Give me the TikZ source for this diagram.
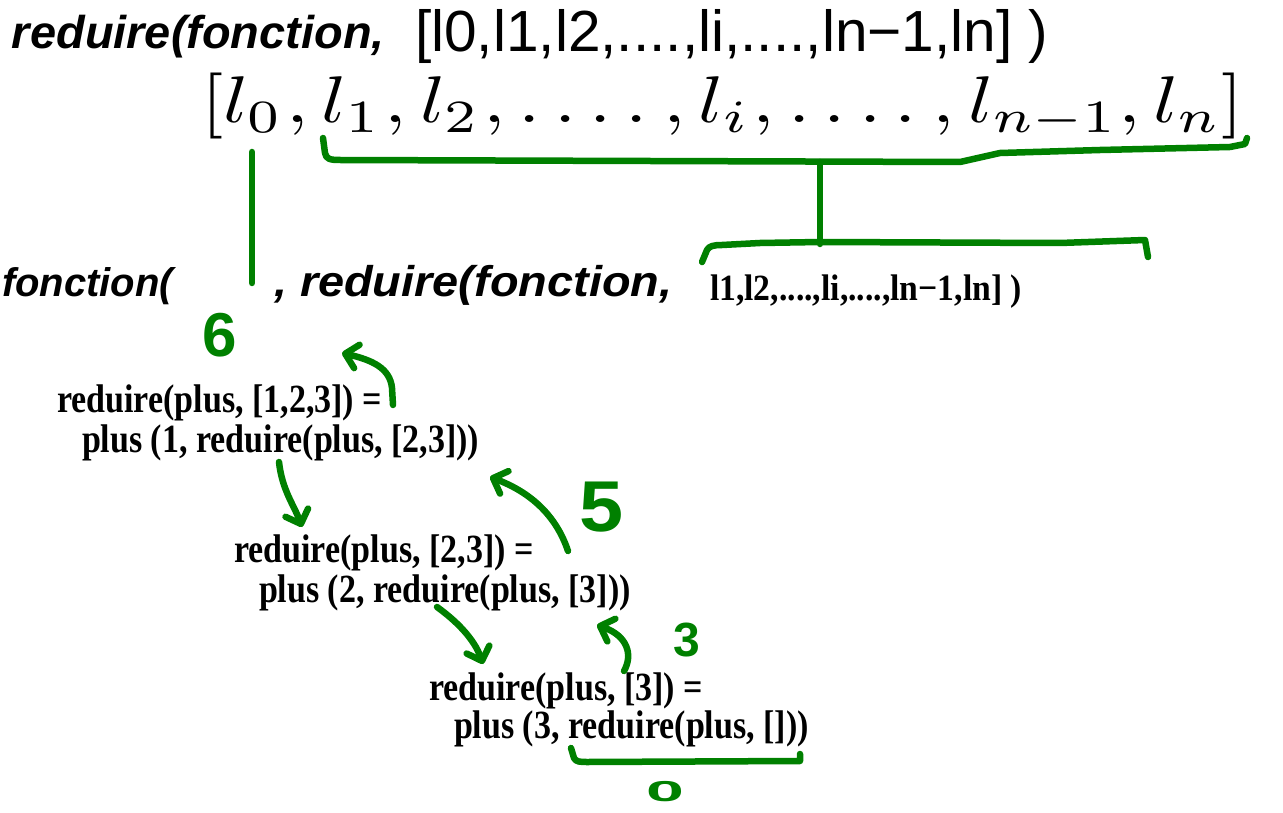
\documentclass[tikz,border=0pt]{standalone}
\usepackage{fontspec}
\setmainfont{Liberation Serif}
\newfontfamily\arialf{Liberation Sans}
\usetikzlibrary{arrows.meta}
\definecolor{pen}{RGB}{0,128,0}
\newcommand\hs[2]{\scalebox{#1}[1]{#2}}
\newcommand\cmm{\hspace{0.04em},}
\newcommand\cmw{\hspace{0.2em},}
\newcommand\dts{.\,.\,.\,.}
\begin{document}
\begin{tikzpicture}[x=1pt,y=-1pt,
  txt/.style={anchor=base west, inner sep=0pt, outer sep=0pt},
  bi/.style={txt, font=\arialf\bfseries\itshape\fontsize{#1}{#1}\selectfont},
  code/.style={txt, font=\bfseries\fontsize{40}{40}\selectfont},
  stroke/.style={draw=pen, line width=6.5pt, line cap=round, line join=round},
  arr/.style={stroke, -{Straight Barb[length=12pt,width=24pt,line cap=round,round]}},
  digit/.style={inner sep=0pt, text=pen, font=\arialf\bfseries\fontsize{#1}{#1}\selectfont},
]
\useasboundingbox[fill=white] (0,0) rectangle (1283,813);

% header
\node[bi=46] (hdr) at (12,49) {\hs{1.02}{reduire(fonction,}};
\node[txt, font=\arialf\fontsize{58}{58}\selectfont] (hlist) at (415,52) {\hs{1.01}{[l0,l1,l2,....,li,....,ln−1,ln] )}};
\node[txt] (math) at (201,123) {\scalebox{8.0}[6.6]{$[l_0\cmm l_1\cmm l_2\cmm \dts\cmw l_i\cmm \dts\cmw l_{n-1}, l_n]$}};

% second line
\node[bi=40] (fct) at (2,297) {fonction(};
\node[bi=43] (rec) at (274,297) {\hs{1.09}{, reduire(fonction,}};
\node[txt, font=\bfseries\fontsize{37}{37}\selectfont] (tail) at (710,300) {\hs{0.91}{l1,l2,....,li,....,ln−1,ln] )}};

% code blocks
\node[code] (c1a) at (57,412) {\hs{0.85}{reduire(plus, [1,2,3]) =}};
\node[code] (c1b) at (82,452) {\hs{0.85}{plus (1, reduire(plus, [2,3]))}};
\node[code] (c2a) at (234,562) {\hs{0.85}{reduire(plus, [2,3]) =}};
\node[code] (c2b) at (259,602) {\hs{0.85}{plus (2, reduire(plus, [3]))}};
\node[code] (c3a) at (429,700) {\hs{0.85}{reduire(plus, [3]) =}};
\node[code] (c3b) at (454,738) {\hs{0.85}{plus (3, reduire(plus, []))}};

% green digits
\node[digit=62] (six) at (220,335) {6};
\node[digit=72] (five) at (602,507) {\hs{1.1}{5}};
\node[digit=48] (three) at (687,640) {3};
\node[digit=40] (zero) at (665,792) {\scalebox{1.7}[0.72]{0}};

% green strokes
\draw[stroke] (252,152) -- (252,283);
\draw[stroke] (323,138) -- (325,153) .. controls (326,159) and (330,160) .. (340,160)
  -- (960,162) -- (1000,153) -- (1100,150) -- (1230,147) -- (1245,144) -- (1247,138);
\draw[stroke] (820,162) -- (820,244);
\draw[stroke] (702,262) -- (707,250) .. controls (709,246) and (714,245) .. (722,245)
  -- (760,243) -- (820,242) -- (1060,243) -- (1145,240) -- (1148,257);
\draw[stroke] (571,748) -- (574,758) .. controls (576,762) and (580,762) .. (588,762)
  -- (800,761) -- (800,754);

% arrows
\coordinate (a1s) at (393,405); \coordinate (a1e) at (342,353);
\draw[arr] (a1s) -- (392,388) .. controls (390,368) and (372,360) .. (a1e);
\coordinate (a2s) at (279,462); \coordinate (a2e) at (302,527);
\draw[arr] (a2s) .. controls (282,490) and (294,505) .. (a2e);
\coordinate (a3s) at (568,551); \coordinate (a3e) at (490,477);
\draw[arr] (a3s) .. controls (556,515) and (530,492) .. (a3e);
\coordinate (a4s) at (437,607); \coordinate (a4e) at (483,664);
\draw[arr] (a4s) .. controls (455,620) and (474,638) .. (a4e);
\coordinate (a5s) at (624,671); \coordinate (a5e) at (597,625);
\draw[arr] (a5s) .. controls (633,655) and (628,636) .. (a5e);
\end{tikzpicture}
\end{document}
